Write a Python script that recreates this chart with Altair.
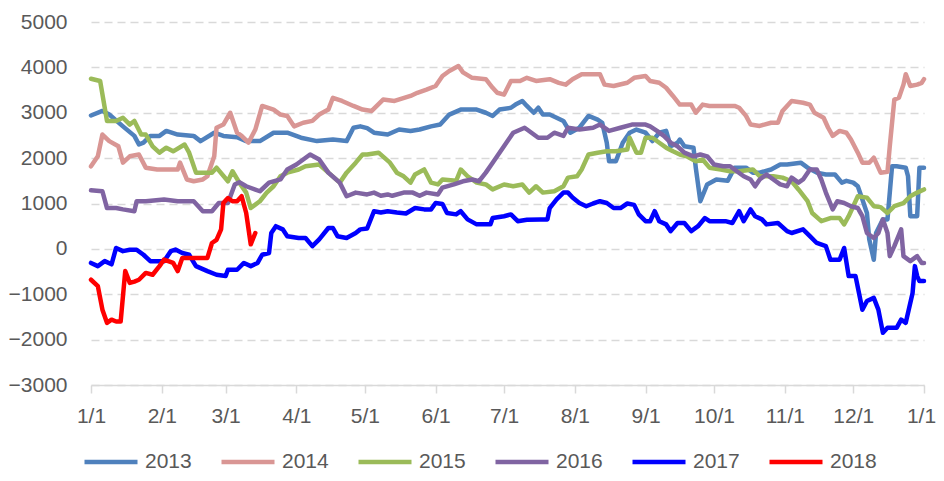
import altair as alt
import pandas as pd

years = ["2013", "2014", "2015", "2016", "2017", "2018"]
colors = ["#4f81bd", "#d99694", "#9bbb59", "#8064a2", "#0000ff", "#ff0000"]
widths = [4.5, 4.5, 4.5, 4.5, 5.5, 5.5]

month_days = [0, 31, 59, 90, 120, 151, 181, 212, 243, 273, 304, 334, 365]
month_labels = ["1/1", "2/1", "3/1", "4/1", "5/1", "6/1", "7/1", "8/1", "9/1",
                "10/1", "11/1", "12/1", "1/1"]
y_ticks = [-3000, -2000, -1000, 0, 1000, 2000, 3000, 4000, 5000]

# (day of year, value)
s2013 = [(0,2940),(5,3040),(8,2960),(14,2700),(19,2490),(21,2300),(23,2340),(26,2490),(30,2490),
         (33,2600),(38,2520),(45,2490),(48,2375),(54,2560),(58,2490),(64,2460),(68,2375),(74,2375),
         (80,2560),(86,2560),(92,2450),(99,2375),(106,2410),(112,2375),(115,2670),(118,2700),(121,2660),
         (124,2560),(130,2520),(135,2630),(140,2600),(144,2630),(149,2700),(153,2740),(157,2960),
         (162,3070),(169,3070),(173,3000),(176,2930),(179,3070),(184,3110),(186,3180),(189,3260),
         (191,3150),(194,3000),(196,3110),(198,2960),(201,2960),(204,2890),(207,2820),(210,2560),
         (214,2670),(218,2930),(222,2850),(224,2780),(226,2340),(227,1930),(230,1930),(233,2340),
         (236,2560),(239,2630),(243,2560),(246,2375),(249,2560),(252,2600),(254,2260),(257,2340),
         (258,2410),(260,2260),(264,2230),(265,1790),(267,1050),(270,1420),(274,1530),(279,1500),
         (282,1790),(287,1790),(290,1680),(293,1680),(298,1750),(302,1860),(305,1860),(311,1900),
         (314,1790),(318,1680),(322,1640),(326,1640),(329,1460),(331,1500),(334,1460),(336,1380),
         (338,1090),(340,790),(341,210),(343,-240),(344,350),(347,650),(349,650),(351,1820),
         (353,1820),(357,1790),(358,1600),(359,720),(362,720),(363,1790),(365,1790)]

s2014 = [(0,1820),(3,2040),(5,2520),(8,2375),(12,2260),(14,1900),(17,2040),(21,2080),(24,1790),
         (29,1750),(38,1750),(39,1900),(42,1530),(45,1490),(49,1530),(51,1600),(54,2040),(55,2670),
         (58,2740),(61,3000),(64,2560),(66,2490),(69,2340),(72,2630),(75,3150),(80,3070),(83,2960),
         (86,2930),(89,2700),(93,2780),(97,2820),(100,2960),(104,3070),(106,3330),(110,3260),
         (115,3150),(119,3070),(123,3040),(128,3290),(133,3260),(140,3370),(143,3440),(147,3510),
         (151,3590),(154,3810),(157,3920),(161,4030),(163,3890),(167,3770),(173,3740),(176,3550),
         (178,3440),(181,3400),(184,3700),(188,3700),(191,3770),(195,3700),(201,3740),(205,3660),
         (208,3620),(211,3740),(215,3850),(220,3850),(223,3850),(225,3620),(229,3590),(235,3660),
         (238,3770),(243,3810),(245,3700),(249,3660),(252,3550),(255,3370),(258,3180),(263,3180),
         (265,3000),(268,3180),(271,3150),(277,3150),(282,3150),(284,3110),(287,2930),(289,2740),
         (293,2710),(298,2780),(301,2780),(303,3040),(307,3260),(312,3220),(315,3180),(317,3000),
         (321,2890),(323,2670),(325,2490),(328,2600),(331,2560),(333,2410),(336,2120),(338,1900),
         (341,1900),(343,2010),(346,1680),(349,1700),(350,2260),(352,3290),(354,3330),(356,3620),
         (357,3850),(359,3590),(362,3620),(364,3660),(365,3740)]

s2015 = [(0,3750),(4,3700),(7,2820),(11,2820),(14,2890),(17,2740),(19,2820),(22,2520),(24,2520),
         (27,2260),(30,2120),(33,2230),(36,2150),(41,2300),(43,2120),(46,1680),(48,1680),(53,1680),
         (55,1790),(60,1490),(62,1710),(65,1460),(68,1240),(70,900),(74,1050),(77,1240),(80,1380),
         (83,1600),(86,1680),(91,1750),(94,1820),(100,1860),(104,1680),(109,1460),(112,1680),
         (116,1900),(119,2080),(121,2080),(126,2120),(131,1900),(134,1680),(137,1600),(140,1460),
         (142,1640),(146,1750),(149,1460),(152,1420),(154,1530),(160,1500),(162,1750),(165,1600),
         (169,1460),(173,1420),(176,1310),(181,1420),(185,1380),(189,1420),(192,1240),(195,1380),
         (198,1240),(203,1270),(207,1380),(209,1570),(213,1600),(215,1750),(218,2080),(222,2120),
         (226,2150),(230,2150),(235,2190),(236,2450),(239,2120),(241,2120),(243,2450),(246,2450),
         (249,2340),(252,2230),(255,2150),(258,2080),(261,2040),(265,1930),(268,1970),(271,1790),
         (276,1750),(280,1710),(284,1710),(290,1750),(293,1600),(299,1600),(303,1570),(307,1490),
         (310,1310),(314,1050),(316,790),(320,610),(324,680),(328,680),(330,540),(332,720),
         (336,1160),(340,1130),(343,940),(346,920),(349,790),(352,940),(356,1010),(359,1160),
         (362,1240),(365,1310)]

s2016 = [(0,1290),(5,1270),(7,900),(11,900),(14,870),(19,830),(20,1050),(24,1050),(32,1090),
         (38,1050),(45,1050),(49,830),(53,830),(56,1010),(60,1010),(63,1420),(65,1470),(68,1380),
         (74,1270),(78,1460),(83,1530),(86,1750),(90,1860),(96,2080),(100,1970),(104,1680),
         (109,1460),(112,1160),(116,1240),(121,1200),(124,1240),(127,1170),(130,1200),(132,1170),
         (137,1240),(141,1240),(144,1170),(147,1240),(152,1200),(154,1350),(159,1420),(163,1490),
         (167,1530),(170,1490),(173,1680),(176,1900),(179,2120),(182,2340),(185,2560),(190,2670),
         (193,2560),(196,2450),(200,2450),(203,2560),(207,2490),(209,2670),(214,2630),(220,2670),
         (223,2740),(227,2600),(232,2670),(237,2740),(243,2740),(245,2700),(248,2600),(251,2490),
         (254,2340),(257,2260),(260,2120),(264,2040),(267,2080),(270,2040),(273,1860),(277,1820),
         (280,1820),(283,1710),(286,1600),(289,1530),(291,1380),(293,1530),(296,1640),(299,1530),
         (302,1420),(305,1380),(307,1570),(310,1460),(312,1530),(315,1750),(318,1750),(320,1530),
         (322,1240),(325,870),(327,1050),(330,1010),(333,940),(336,900),(338,720),(340,350),
         (343,240),(345,350),(347,650),(349,350),(350,-160),(352,60),(355,430),(356,-160),
         (359,-270),(362,-160),(364,-310),(365,-310)]

s2017 = [(0,-310),(3,-380),(6,-270),(9,-340),(11,20),(14,-50),(17,-20),(20,-20),(23,-130),
         (26,-270),(32,-270),(35,-50),(37,-15),(40,-90),(43,-130),(46,-380),(51,-490),(55,-570),
         (59,-600),(60,-460),(64,-460),(67,-310),(70,-380),(73,-310),(75,-130),(78,-90),(79,350),
         (81,500),(84,430),(86,280),(91,240),(94,240),(97,60),(100,210),(104,460),(106,460),
         (108,280),(112,240),(116,350),(118,430),(121,450),(124,830),(127,800),(130,830),(134,800),
         (138,780),(142,900),(146,870),(149,870),(151,1010),(154,990),(156,790),(160,760),(162,830),
         (165,650),(169,540),(175,540),(176,680),(181,720),(184,760),(187,610),(191,640),(197,650),
         (200,650),(201,900),(204,1090),(207,1240),(209,1240),(211,1130),(214,1010),(217,940),
         (220,1000),(223,1050),(226,1010),(229,900),(232,900),(235,1000),(238,970),(240,760),
         (243,610),(245,610),(247,830),(249,610),(252,540),(254,390),(257,570),(260,570),(263,390),
         (266,500),(269,680),(271,610),(278,610),(281,570),(284,830),(286,610),(289,870),(291,720),
         (294,650),(296,540),(301,570),(305,390),(307,350),(312,430),(315,280),(318,130),(322,60),
         (324,-240),(328,-240),(330,20),(332,-600),(335,-600),(338,-1340),(340,-1150),(343,-1080),
         (345,-1340),(347,-1850),(349,-1740),(353,-1740),(355,-1560),(357,-1630),(360,-970),
         (361,-380),(362,-600),(363,-710),(365,-710)]

s2018 = [(0,-680),(3,-820),(5,-1340),(7,-1630),(9,-1560),(11,-1600),(13,-1600),(15,-490),(17,-750),
         (19,-720),(21,-680),(24,-530),(27,-570),(30,-380),(32,-235),(36,-310),(38,-490),(40,-200),
         (45,-200),(51,-200),(53,130),(55,200),(57,430),(58,1010),(60,1120),(62,1050),(64,1050),
         (66,1160),(68,790),(70,100),(72,350)]

series = [s2013, s2014, s2015, s2016, s2017, s2018]
rows = []
for yr, s in zip(years, series):
    for i, (d, v) in enumerate(s):
        rows.append({"year": yr, "day": d, "value": v, "idx": i})
df = pd.DataFrame(rows)

FONT = "Liberation Sans"
GRAY = "#595959"
LINE = "#d9d9d9"

label_expr = ("{}[indexof({}, datum.value)]"
              .format(str(month_labels), str(month_days)))

chart = alt.Chart(df).mark_line(strokeJoin="round", strokeCap="round").encode(
    x=alt.X("day:Q",
            scale=alt.Scale(domain=[0, 365], nice=False, zero=False),
            axis=alt.Axis(values=month_days, labelExpr=label_expr, title=None,
                          grid=False, domainColor=LINE, domainWidth=1.5,
                          tickColor=LINE, tickWidth=1.5, tickSize=8,
                          labelPadding=12, labelColor=GRAY, labelFontSize=21,
                          labelFont=FONT, labelFlush=False,
                          labelOffset={"condition": {"test": "datum.value == 365", "value": -3},
                                       "value": 0})),
    y=alt.Y("value:Q",
            scale=alt.Scale(domain=[-3000, 5000], nice=False),
            axis=alt.Axis(values=y_ticks, title=None, domain=False, ticks=False,
                          format="d",
                          grid=True, gridColor=LINE, gridDash=[8, 5], gridWidth=1.5,
                          labelPadding=24, labelColor=GRAY, labelFontSize=21,
                          labelFont=FONT)),
    color=alt.Color("year:N",
                    scale=alt.Scale(domain=years, range=colors),
                    legend=alt.Legend(title=None, orient="none", direction="horizontal",
                                      columns=6, legendX=-9, legendY=411,
                                      symbolType="stroke", symbolSize=2809,
                                      symbolStrokeWidth=5, labelOffset=5,
                                      columnPadding=20, padding=0,
                                      labelFontSize=21, labelColor=GRAY,
                                      labelFont=FONT)),
    strokeWidth=alt.StrokeWidth("year:N",
                                scale=alt.Scale(domain=years, range=widths),
                                legend=None),
    order=alt.Order("idx:Q"),
).properties(
    width=833,
    height=363,
    autosize=alt.AutoSizeParams(type="none"),
    padding={"left": 83, "top": 14, "right": 12, "bottom": 87},
).configure_view(stroke=None)

chart.save("out.html", embed_options={"renderer": "svg", "actions": False})
